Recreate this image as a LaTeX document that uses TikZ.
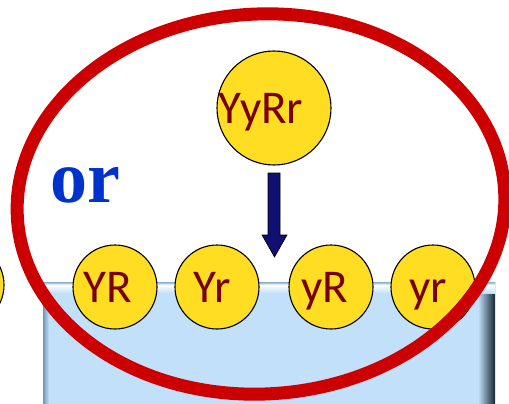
\documentclass[tikz,border=0pt]{standalone}
\usepackage{fontspec}
\setmainfont{Carlito}
\newfontfamily\orfont{Liberation Serif}
\definecolor{cellfill}{RGB}{255,221,34}
\definecolor{celltext}{RGB}{122,0,0}
\definecolor{trayblue}{RGB}{194,224,250}
\definecolor{trayedge}{RGB}{110,150,180}
\definecolor{traydark}{RGB}{20,38,52}
\definecolor{ringred}{RGB}{204,0,0}
\definecolor{arrownavy}{RGB}{16,16,112}
\definecolor{orblue}{RGB}{0,51,204}
\tikzset{
  gamete/.style={circle, draw=black, line width=1.1pt, fill=cellfill,
    minimum size=84pt, inner sep=0pt},
  celllabel/.style={text=celltext, inner sep=0pt,
    font=\fontsize{47}{47}\selectfont, text height=30pt, text depth=0pt},
}
\begin{document}
\begin{tikzpicture}[x=1pt, y=-1pt]
\useasboundingbox (0,0) rectangle (509,404);

% tray of gametes
\fill[trayblue] (43,282) rectangle (495,410);
\shade[left color=trayedge, right color=trayblue] (43,282) rectangle (49,410);
\shade[left color=trayblue, right color=traydark] (478,282) rectangle (495,410);
\shade[top color=trayedge!70!trayblue, bottom color=white] (43,282) rectangle (495,285);
\shade[top color=white, bottom color=trayblue] (43,285) rectangle (495,293);

% gametes
\node[gamete] (ghost) at (-38,285) {};
\node[gamete] (g1) at (115,287) {};
\node[gamete] (g2) at (217,287) {};
\node[gamete] (g3) at (331,287) {};
\node[gamete] (g4) at (433,287) {};
\node[celllabel] (t1) at ([xshift=-7pt]g1.center) {YR};
\node[celllabel] (t2) at ([xshift=-5pt]g2.center) {Yr};
\node[celllabel] (t3) at ([xshift=-6pt]g3.center) {yR};
\node[celllabel] (t4) at ([xshift=-5pt]g4.center) {yr};

% parent
\node[gamete, minimum size=114pt] (parent) at (274,108) {};
\node[celllabel] (ptext) at ([xshift=-13pt]parent.center) {YyRr};

% arrow from parent down to the gametes
\fill[arrownavy, draw=black, line width=0.6pt]
  (268,173) -- (280,173) -- (280,235) -- (287,235) -- (274.5,257)
  -- (262,235) -- (268,235) -- cycle;

% the word "or"
\node[text=orblue, font=\orfont\bfseries\fontsize{74}{74}\selectfont, inner sep=0pt, anchor=base west] (ortext) at (50,202) {or};

% ring
\draw[ringred, line width=13pt, rotate around={3:(261,204)}] (261,204) ellipse [x radius=244, y radius=190];
\end{tikzpicture}
\end{document}
